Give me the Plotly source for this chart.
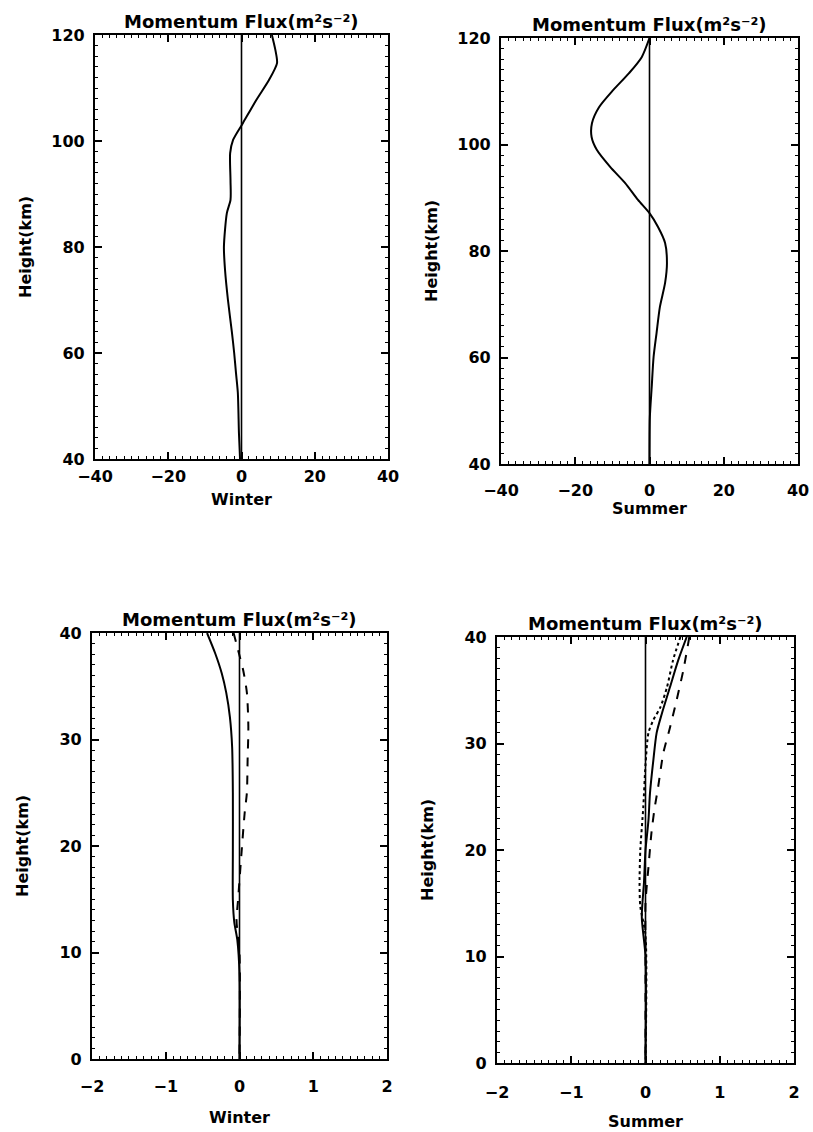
import plotly.graph_objects as go

# ---------------- data ----------------
TITLE = "Momentum Flux(m²s⁻²)"
Y_LABEL = "Height(km)"
X_LABELS = ["Winter", "Summer", "Winter", "Summer"]

# top-left: winter, 40-120 km
TL_H = [120, 117, 114.7, 111.5, 107.7, 103.4, 100.2, 97.7, 92.6, 88.9, 86.4, 80, 75.7, 70, 63.8, 60, 56.2, 52.5, 44.9, 40]
TL_F = [8.3, 9.3, 9.7, 7.5, 4.0, 0.4, -2.3, -3.1, -3.0, -3.0, -4.0, -4.8, -4.5, -3.7, -2.6, -2.0, -1.5, -1.0, -0.7, -0.4]

# top-right: summer, 40-120 km
TR_H = [120, 116.4, 113.4, 110.2, 107, 104, 101.4, 99, 95.8, 92.8, 89.6, 87.1, 84.5, 81.5, 77.7, 74, 69.5, 64.6, 60.1, 54.5, 48.8, 40]
TR_F = [0, -2.1, -5.5, -9.8, -13.6, -15.5, -15.6, -14.2, -10.6, -6.6, -3.1, 0, 2.3, 4.2, 4.7, 4.2, 2.8, 1.9, 1.1, 0.6, 0.1, 0]

# bottom-left: winter, 0-40 km
BL_SOLID_H = [40, 38.1, 36.2, 34.4, 32.1, 29.3, 25, 19.6, 14.9, 12.8, 11.2, 8, 0]
BL_SOLID_F = [-0.44, -0.33, -0.24, -0.18, -0.13, -0.10, -0.09, -0.09, -0.09, -0.07, -0.03, 0, 0]
BL_DASH_H = [40, 38.4, 36.5, 34.4, 31.2, 28.1, 25, 23.1, 19.6, 14.9, 13, 10, 0]
BL_DASH_F = [-0.08, -0.02, 0.05, 0.10, 0.12, 0.11, 0.10, 0.07, 0.03, -0.02, -0.04, 0, 0]

# bottom-right: summer, 0-40 km
BR_SOLID_H = [40, 37.8, 35.3, 32.8, 31, 28.4, 25.3, 22.8, 20, 17, 13.7, 10, 0]
BR_SOLID_F = [0.555, 0.44, 0.33, 0.22, 0.15, 0.105, 0.06, 0.04, 0, -0.02, -0.05, 0, 0]
BR_DOT_H = [40, 37.8, 35.3, 33.4, 32.2, 31, 28, 24, 20, 16.9, 14.7, 12, 0]
BR_DOT_F = [0.47, 0.37, 0.29, 0.2, 0.105, 0.04, 0.0, -0.03, -0.07, -0.08, -0.07, 0, 0]
BR_DASH_H = [40, 36.9, 34.1, 31.5, 29.1, 25.9, 23.8, 21.6, 18.4, 15, 10, 0]
BR_DASH_F = [0.59, 0.51, 0.42, 0.33, 0.24, 0.17, 0.12, 0.08, 0.04, 0.0, 0, 0]

UPPER_RANGE_X = [-40, 40]
UPPER_RANGE_Y = [40, 120]
LOWER_RANGE_X = [-2, 2]
LOWER_RANGE_Y = [0, 40]
UPPER_XTICKS = [-40, -20, 0, 20, 40]
UPPER_YTICKS = [40, 60, 80, 100, 120]
LOWER_XTICKS = [-2, -1, 0, 1, 2]
LOWER_YTICKS = [0, 10, 20, 30, 40]

# ---------------- layout helpers ----------------
W, H = 813, 1132
FONT = "DejaVu Sans"

# panel boxes in pixels: left, right, top, bottom
BOXES = [(95, 388, 35, 459), (501, 798, 38, 464), (92, 387, 633, 1059), (497, 794, 637, 1063)]
XTICK_STANDOFF = [2, 11, 12, 14]
XTITLE_SHIFT = [-29, -33, -47, -47]

fig = go.Figure()

def add(idx, xs, ys, dash="solid", width=2.0):
    n = "" if idx == 0 else str(idx + 1)
    fig.add_trace(go.Scatter(x=xs, y=ys, mode="lines", xaxis="x" + n, yaxis="y" + n,
                             line=dict(color="black", width=width, dash=dash, shape="spline", smoothing=0.7),
                             showlegend=False, hoverinfo="skip"))

def zero(idx, yr):
    n = "" if idx == 0 else str(idx + 1)
    fig.add_trace(go.Scatter(x=[0, 0], y=yr, mode="lines", xaxis="x" + n, yaxis="y" + n,
                             line=dict(color="black", width=1.6), showlegend=False, hoverinfo="skip"))

zero(0, UPPER_RANGE_Y)
add(0, TL_F, TL_H)
zero(1, UPPER_RANGE_Y)
add(1, TR_F, TR_H)
zero(2, LOWER_RANGE_Y)
add(2, BL_SOLID_F, BL_SOLID_H)
add(2, BL_DASH_F, BL_DASH_H, dash="dash")
zero(3, LOWER_RANGE_Y)
add(3, BR_SOLID_F, BR_SOLID_H)
add(3, BR_DOT_F, BR_DOT_H, dash="dot")
add(3, BR_DASH_F, BR_DASH_H, dash="dash")

layout = dict(width=W, height=H, margin=dict(l=0, r=0, t=0, b=0, autoexpand=False),
              paper_bgcolor="white", plot_bgcolor="white",
              font=dict(family=FONT, color="black", size=17))
annotations = []
for i, (l, r, t, b) in enumerate(BOXES):
    n = "" if i == 0 else str(i + 1)
    upper = i < 2
    xr = UPPER_RANGE_X if upper else LOWER_RANGE_X
    yr = UPPER_RANGE_Y if upper else LOWER_RANGE_Y
    xt = UPPER_XTICKS if upper else LOWER_XTICKS
    yt = UPPER_YTICKS if upper else LOWER_YTICKS
    xminor = 2 if upper else 0.1
    yminor = 2 if upper else 1
    common = dict(showgrid=False, zeroline=False, showline=True, linecolor="black", linewidth=2.2,
                  mirror="allticks", ticks="inside", ticklen=7, tickwidth=1.6, tickcolor="black",
                  automargin=False,
                  tickfont=dict(family=FONT, size=16, color="black", weight="bold"))
    layout["xaxis" + n] = dict(common, domain=[l / W, r / W], range=xr, tickvals=xt,
                               anchor="y" + n, ticklabelstandoff=XTICK_STANDOFF[i],
                               minor=dict(ticks="inside", dtick=xminor, ticklen=3, tickwidth=1.4, tickcolor="black"))
    layout["yaxis" + n] = dict(common, domain=[1 - b / H, 1 - t / H], range=yr, tickvals=yt,
                               anchor="x" + n, ticklabelstandoff=5,
                               minor=dict(ticks="inside", dtick=yminor, ticklen=3, tickwidth=1.4, tickcolor="black"))
    annotations.append(dict(text=TITLE, xref="x" + n + " domain", yref="y" + n + " domain",
                            x=0.5, y=1, xanchor="center", yanchor="bottom", yshift=1,
                            showarrow=False, font=dict(family=FONT, size=18, weight="bold")))
    annotations.append(dict(text=X_LABELS[i], xref="x" + n + " domain", yref="y" + n + " domain",
                            x=0.5, y=0, xanchor="center", yanchor="top", yshift=XTITLE_SHIFT[i],
                            showarrow=False, font=dict(family=FONT, size=16, weight="bold")))
    annotations.append(dict(text=Y_LABEL, xref="paper", yref="y" + n + " domain",
                            x=(l - 70) / W, y=0.5, xanchor="center", yanchor="middle", textangle=-90,
                            showarrow=False, font=dict(family=FONT, size=16, weight="bold")))
layout["annotations"] = annotations
fig.update_layout(**layout)
fig.write_html("out.html")
